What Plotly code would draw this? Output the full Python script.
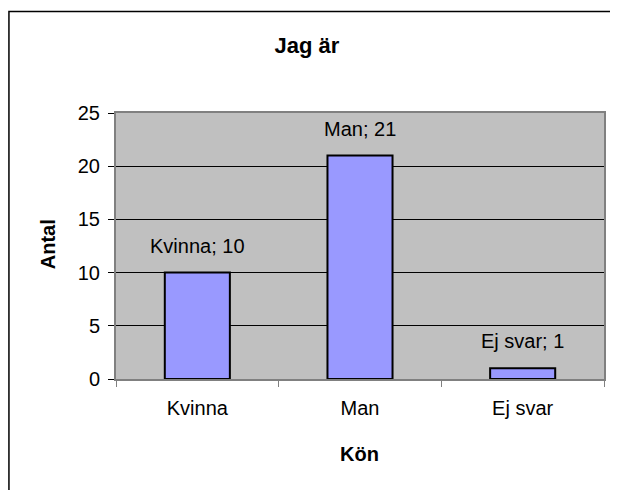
import plotly.graph_objects as go

categories = ["Kvinna", "Man", "Ej svar"]
values = [10, 21, 1]
y_ticks = [0, 5, 10, 15, 20, 25]

FONT = "Liberation Sans, Arial, sans-serif"
# page has an 8px body margin; figure sized to fit the window
W, H = 610, 482
L, R, T, B = 108, 12, 105, 111
PW, PH = W - L - R, H - T - B
OFF = 8  # page offset

def px_x(x):  # page x -> paper
    return (x - OFF - L) / PW

def px_y(y):  # page y -> paper
    return (H - B - (y - OFF)) / PH

fig = go.Figure()
fig.add_trace(go.Bar(
    x=categories, y=values, width=0.4,
    marker=dict(color="#9999FF", line=dict(color="black", width=2)),
    showlegend=False, hoverinfo="x+y",
))

for c, v in zip(categories, values):
    fig.add_annotation(x=c, y=v, xref="x", yref="y", text=f"{c}; {v}",
                       showarrow=False, xanchor="center", yanchor="bottom", yshift=14,
                       font=dict(family=FONT, size=20, color="black"))

fig.add_annotation(xref="paper", yref="paper", x=px_x(48), y=px_y(244), text="<b>Antal</b>",
                   textangle=-90, showarrow=False, xanchor="center", yanchor="middle",
                   font=dict(family=FONT, size=20, color="black"))
fig.add_annotation(xref="paper", yref="paper", x=px_x(360), y=px_y(454), text="<b>Kön</b>",
                   showarrow=False, xanchor="center", yanchor="middle",
                   font=dict(family=FONT, size=20, color="black"))

# outer chart border
fig.add_shape(type="rect", xref="paper", yref="paper",
              x0=px_x(8.5), x1=px_x(660), y0=px_y(540), y1=px_y(11.5),
              line=dict(color="black", width=1.5), fillcolor="rgba(0,0,0,0)", layer="below")

fig.update_layout(
    width=W, height=H,
    margin=dict(l=L, r=R, t=T, b=B),
    paper_bgcolor="white", plot_bgcolor="#C0C0C0",
    title=dict(text="<b>Jag är</b>", x=(307 - OFF) / W, xref="container", xanchor="center",
               y=1 - (45 - OFF) / H, yref="container", yanchor="middle",
               font=dict(family=FONT, size=22, color="black")),
    font=dict(family=FONT, size=20, color="black"),
    xaxis=dict(showgrid=False, showline=True, linecolor="#808080", linewidth=2, mirror=True,
               ticks="outside", ticklen=6, tickcolor="#808080", tickson="boundaries",
               ticklabelstandoff=10,
               tickfont=dict(family=FONT, size=20, color="black"), fixedrange=True),
    yaxis=dict(range=[0, 25], tickvals=y_ticks, showgrid=True, gridcolor="black", gridwidth=1,
               zeroline=False, showline=True, linecolor="#808080", linewidth=2, mirror=True,
               ticks="outside", ticklen=6, tickcolor="black", ticklabelstandoff=4,
               tickfont=dict(family=FONT, size=20, color="black"), fixedrange=True),
)

fig.write_html("out.html")
